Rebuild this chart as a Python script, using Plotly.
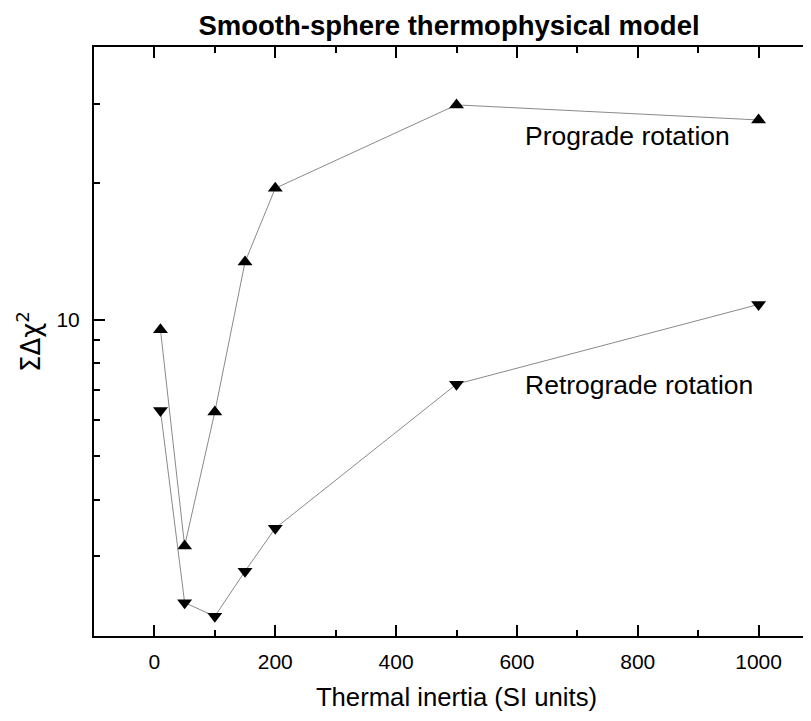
import plotly.graph_objects as go

# Data
thermal_inertia = [10, 50, 100, 150, 200, 500, 1000]
prograde_chi2 = [9.5, 3.16, 6.25, 13.4, 19.5, 29.8, 27.6]
retrograde_chi2 = [6.3, 2.37, 2.21, 2.78, 3.46, 7.2, 10.8]

x_ticks = [0, 200, 400, 600, 800, 1000]
x_minor = [100, 300, 500, 700, 900]
y_ticks = [10]
y_minor = [3, 4, 5, 6, 7, 8, 9, 20, 30]

FONT = "Liberation Sans, Arial, sans-serif"

fig = go.Figure()
fig.add_trace(go.Scatter(
    x=thermal_inertia, y=prograde_chi2, mode="lines+markers",
    line=dict(color="#8a8a8a", width=1),
    marker=dict(symbol="triangle-up", size=13, color="black"),
    name="Prograde rotation", showlegend=False))
fig.add_trace(go.Scatter(
    x=thermal_inertia, y=retrograde_chi2, mode="lines+markers",
    line=dict(color="#8a8a8a", width=1),
    marker=dict(symbol="triangle-down", size=13, color="black"),
    name="Retrograde rotation", showlegend=False))

fig.update_layout(
    width=811, height=721,
    margin=dict(l=86, r=0, t=39, b=93, autoexpand=False),
    paper_bgcolor="white", plot_bgcolor="white",
    font=dict(family=FONT, color="black", size=20),
    title=dict(text="<b>Smooth-sphere thermophysical model</b>",
               font=dict(family=FONT, size=27.5, color="black"),
               x=441 / 811, xref="container", xanchor="center",
               y=1 - 17 / 721, yref="container", yanchor="middle",
               automargin=False),
    xaxis=dict(
        range=[-100, 1100], tickmode="array", tickvals=x_ticks,
        ticks="inside", ticklen=11, tickwidth=2, tickcolor="black",
        showline=True, linewidth=2, linecolor="black", mirror="ticks",
        showgrid=False, zeroline=False, automargin=False,
        tickfont=dict(size=21), ticklabelstandoff=6,
        minor=dict(tickvals=x_minor, ticks="inside", ticklen=6,
                   tickwidth=2, tickcolor="black", showgrid=False),
        title=dict(text="Thermal inertia (SI units)", font=dict(size=25.7),
                   standoff=16),
    ),
    yaxis=dict(
        type="log", range=[0.30103, 1.60206],
        tickmode="array", tickvals=y_ticks, ticktext=["10"],
        ticks="inside", ticklen=11, tickwidth=2, tickcolor="black",
        showline=True, linewidth=2, linecolor="black", mirror=False,
        showgrid=False, zeroline=False, automargin=False,
        tickfont=dict(size=21), ticklabelstandoff=8,
        minor=dict(tickvals=y_minor, ticks="inside", ticklen=6,
                   tickwidth=2, tickcolor="black", showgrid=False),
        title=dict(text="ΣΔχ<sup>2</sup>",
                   font=dict(family="DejaVu Sans, sans-serif", size=26),
                   standoff=8),
    ),
    annotations=[
        dict(text="Prograde rotation", x=610, xref="x", xanchor="left",
             y=0.849, yref="paper", yanchor="middle", showarrow=False,
             font=dict(size=26.5)),
        dict(text="Retrograde rotation", x=610, xref="x", xanchor="left",
             y=0.426, yref="paper", yanchor="middle", showarrow=False,
             font=dict(size=26.5)),
    ],
)

fig.write_html("out.html")
